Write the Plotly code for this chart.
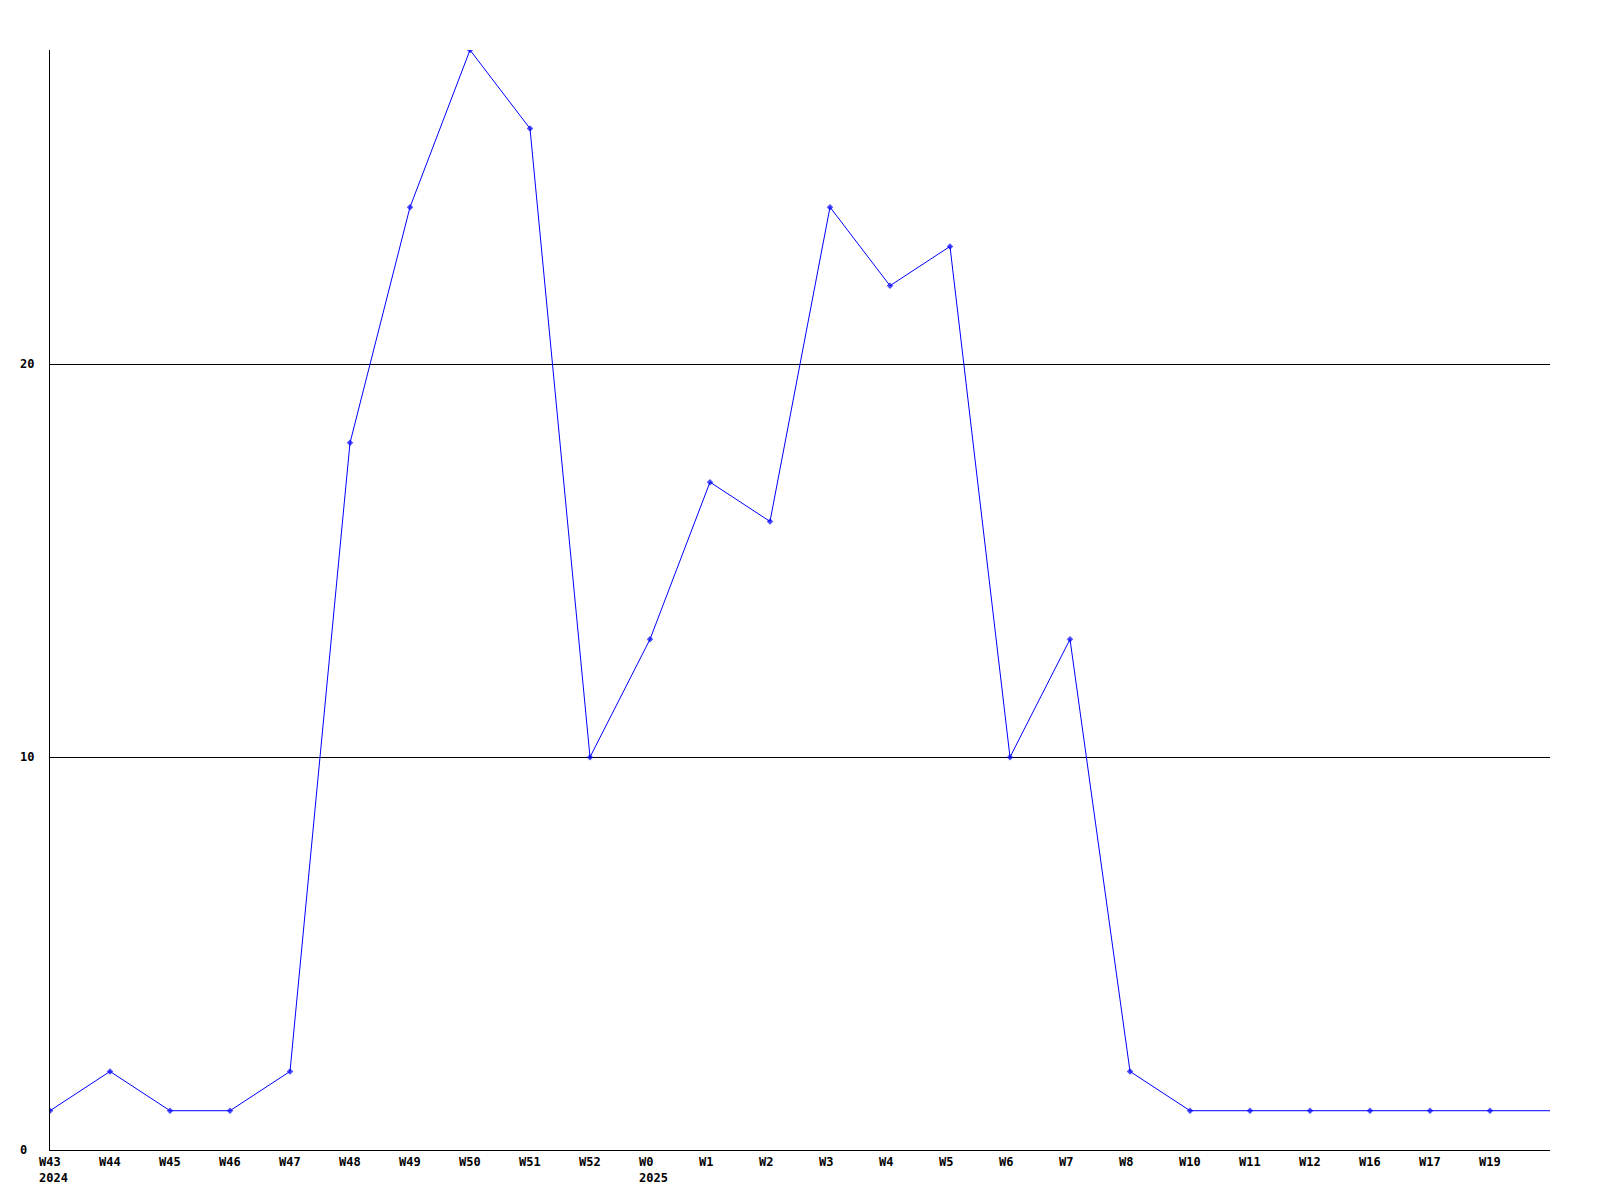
import plotly.graph_objects as go

weeks = ["W43", "W44", "W45", "W46", "W47", "W48", "W49", "W50", "W51", "W52",
         "W0", "W1", "W2", "W3", "W4", "W5", "W6", "W7", "W8", "W10",
         "W11", "W12", "W16", "W17", "W19", ""]
years = {"W43": "2024", "W0": "2025"}
values = [1, 2, 1, 1, 2, 18, 24, 28, 26, 10,
          13, 17, 16, 24, 22, 23, 10, 13, 2, 1,
          1, 1, 1, 1, 1, 1]
y_ticks = [0, 10, 20]

xs = list(range(len(weeks)))
marker_sizes = [5 if w else 0 for w in weeks]

fig = go.Figure()
fig.add_trace(go.Scatter(
    x=xs, y=values, mode="lines+markers",
    line=dict(color="#0000ff", width=1),
    marker=dict(color="#0000ff", size=marker_sizes, symbol="diamond", line=dict(width=0)),
    hoverinfo="skip", showlegend=False,
))

font = dict(family="DejaVu Sans Mono", size=12, color="#000000")
ann = []
for i, w in enumerate(weeks):
    if not w:
        continue
    txt = "<b>" + w + "</b>"
    if w in years:
        txt += "<br><b>" + years[w] + "</b>"
    ann.append(dict(x=i, y=0, xref="x", yref="y", text=txt, showarrow=False,
                    xanchor="left", yanchor="top", align="left", xshift=-13, yshift=-3,
                    font=font))
for t in y_ticks:
    ann.append(dict(x=0, y=t, xref="paper", yref="y", text="<b>" + str(t) + "</b>",
                    showarrow=False, xanchor="left", yanchor="middle", xshift=-32,
                    font=font))

fig.update_layout(
    width=1584, height=1184,
    margin=dict(l=42, r=42, t=42, b=42),
    paper_bgcolor="#ffffff", plot_bgcolor="#ffffff",
    annotations=ann,
    xaxis=dict(range=[0, len(weeks) - 1], showgrid=False, zeroline=False,
               showticklabels=False, ticks="", showline=True, linecolor="#000000",
               linewidth=1, fixedrange=True),
    yaxis=dict(range=[0, 28], tickvals=[10, 20], showticklabels=False, ticks="",
               showgrid=True, gridcolor="#000000", gridwidth=1, zeroline=False,
               showline=True, linecolor="#000000", linewidth=1, fixedrange=True),
)

fig.write_html("out.html")
